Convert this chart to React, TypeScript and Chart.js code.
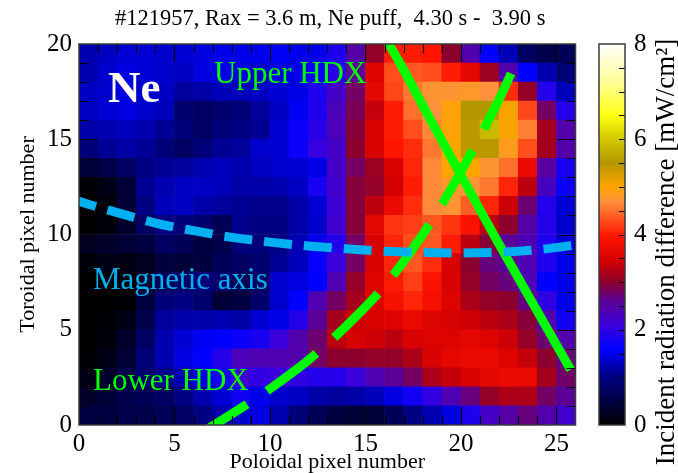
import React, { useEffect, useRef } from 'react';
import { Chart, registerables } from 'chart.js';

Chart.register(...registerables);

const TITLE = '#121957, Rax = 3.6 m, Ne puff,  4.30 s -  3.90 s';
const X_LABEL = 'Poloidal pixel number';
const Y_LABEL = 'Toroidal pixel number';
const CB_LABEL = 'Incident radiation difference [mW/cm\u00B2]';

const X_TICKS = [0, 5, 10, 15, 20, 25];
const Y_TICKS = [0, 5, 10, 15, 20];
const CB_TICKS = [0, 2, 4, 6, 8];
const X_MAX = 26;
const Y_MAX = 20;
const CB_MAX = 8;

// Heat map values (mW/cm^2), listed from the top row (toroidal 19) down to row 0.
const Z_ROW_19 = [1.22, 1.31, 1.40, 1.40, 1.36, 1.40, 1.45, 1.50, 1.49, 1.52, 1.55, 1.52, 1.50, 1.85, 2.50, 3.05, 4.00, 4.00, 3.95, 3.00, 2.45, 1.60, 1.27, 0.75, 0.58, 0.67];
const Z_ROW_18 = [1.22, 1.36, 1.45, 1.40, 1.36, 1.31, 1.45, 1.49, 1.45, 1.36, 1.45, 1.49, 1.65, 1.95, 2.60, 3.55, 4.30, 4.35, 4.30, 4.00, 3.65, 3.10, 2.45, 1.60, 1.22, 0.92];
const Z_ROW_17 = [1.31, 1.36, 1.45, 1.36, 1.31, 1.13, 1.18, 1.27, 1.27, 1.31, 1.40, 1.49, 1.85, 2.25, 2.80, 3.65, 4.25, 4.55, 4.75, 4.75, 4.80, 4.70, 4.10, 3.05, 1.90, 1.27];
const Z_ROW_16 = [1.31, 1.40, 1.45, 1.36, 1.27, 0.83, 0.75, 0.83, 0.92, 1.13, 1.31, 1.55, 1.85, 2.35, 2.85, 3.35, 4.00, 4.50, 4.70, 4.95, 5.50, 5.50, 5.05, 4.25, 2.80, 1.90];
const Z_ROW_15 = [1.18, 1.22, 1.27, 1.22, 1.09, 0.92, 0.75, 0.92, 1.00, 1.09, 1.40, 1.70, 1.95, 2.35, 2.95, 3.50, 4.00, 4.30, 4.65, 4.95, 5.45, 5.85, 5.05, 4.60, 3.15, 2.45];
const Z_ROW_14 = [0.92, 1.09, 1.18, 1.09, 0.92, 0.75, 0.92, 1.09, 1.13, 1.36, 1.40, 1.70, 2.05, 2.25, 3.00, 3.50, 3.95, 4.10, 4.55, 5.00, 5.45, 5.45, 4.85, 4.30, 3.15, 2.45];
const Z_ROW_13 = [0.42, 0.58, 0.75, 1.00, 1.09, 1.13, 1.22, 1.27, 1.22, 1.31, 1.36, 1.40, 1.49, 2.25, 2.80, 3.10, 3.50, 4.05, 4.65, 5.00, 5.00, 4.75, 4.50, 3.70, 2.55, 1.80];
const Z_ROW_12 = [0.04, 0.17, 0.42, 1.09, 1.22, 1.31, 1.31, 1.27, 1.18, 1.18, 1.22, 1.31, 1.80, 2.20, 2.95, 3.05, 3.45, 4.00, 4.65, 4.80, 4.75, 4.55, 4.05, 3.30, 2.30, 1.70];
const Z_ROW_11 = [0.00, 0.08, 0.42, 1.00, 1.27, 1.31, 1.18, 1.13, 1.09, 1.05, 1.05, 1.18, 1.40, 2.15, 2.95, 3.30, 3.70, 4.10, 4.65, 4.75, 4.40, 4.05, 3.40, 2.75, 1.90, 1.40];
const Z_ROW_10 = [0.00, 0.08, 0.33, 0.75, 1.00, 0.92, 0.83, 0.67, 1.05, 1.00, 1.00, 1.18, 1.36, 2.20, 2.95, 3.65, 4.15, 4.20, 4.35, 4.15, 3.90, 3.30, 3.00, 2.50, 1.90, 1.36];
const Z_ROW_09 = [0.25, 0.33, 0.42, 0.50, 0.75, 0.67, 0.50, 0.58, 0.92, 0.92, 1.00, 1.22, 1.49, 1.90, 2.80, 3.50, 4.05, 4.30, 4.35, 4.00, 3.30, 2.95, 2.60, 2.40, 1.85, 1.40];
const Z_ROW_08 = [0.08, 0.17, 0.12, 0.25, 0.50, 0.42, 0.50, 0.67, 0.75, 0.83, 1.09, 1.27, 1.65, 2.10, 2.80, 3.50, 4.05, 4.35, 4.10, 3.50, 3.00, 2.70, 2.60, 2.40, 1.85, 1.49];
const Z_ROW_07 = [0.00, 0.00, 0.08, 0.33, 0.67, 0.75, 0.92, 0.83, 0.67, 0.75, 1.36, 1.45, 1.60, 2.40, 3.05, 3.55, 4.00, 4.20, 3.90, 3.50, 3.05, 2.80, 2.70, 2.40, 1.60, 1.49];
const Z_ROW_06 = [0.00, 0.00, 0.04, 0.50, 0.92, 1.00, 0.83, 0.42, 0.50, 0.83, 1.36, 1.60, 2.40, 2.80, 3.15, 3.55, 3.85, 4.05, 3.85, 3.55, 3.20, 3.05, 3.00, 2.70, 2.00, 1.49];
const Z_ROW_05 = [0.00, 0.04, 0.17, 0.58, 1.13, 1.18, 1.18, 1.22, 1.18, 1.40, 1.49, 1.90, 2.60, 3.15, 3.40, 3.50, 3.55, 3.70, 3.55, 3.50, 3.40, 3.30, 3.20, 2.95, 2.45, 1.75];
const Z_ROW_04 = [0.00, 0.08, 0.33, 0.75, 1.22, 1.40, 1.55, 1.60, 1.70, 1.80, 2.10, 2.45, 2.75, 3.30, 3.50, 3.40, 3.30, 3.50, 3.55, 3.55, 3.65, 3.55, 3.40, 3.05, 2.75, 2.45];
const Z_ROW_03 = [0.04, 0.17, 0.42, 0.92, 1.22, 1.45, 1.60, 1.90, 2.35, 2.40, 2.40, 2.45, 2.80, 3.00, 3.00, 3.05, 3.05, 3.20, 3.50, 3.65, 3.70, 3.70, 3.55, 3.35, 3.00, 2.70];
const Z_ROW_02 = [0.17, 0.33, 0.58, 0.83, 1.05, 1.22, 1.45, 1.75, 2.15, 2.00, 2.10, 2.00, 1.90, 1.90, 2.10, 2.40, 2.60, 2.80, 3.20, 3.35, 3.50, 3.65, 3.70, 3.68, 3.15, 2.78];
const Z_ROW_01 = [0.33, 0.42, 0.58, 0.67, 0.75, 1.00, 1.22, 1.40, 1.75, 1.50, 1.36, 1.31, 1.18, 1.13, 1.18, 1.27, 1.45, 1.75, 2.00, 2.40, 2.70, 3.05, 3.20, 3.20, 2.80, 2.60];
const Z_ROW_00 = [0.50, 0.50, 0.58, 0.58, 0.67, 0.75, 1.00, 1.22, 1.36, 1.45, 1.22, 0.92, 0.67, 0.50, 0.42, 0.42, 0.67, 1.00, 1.22, 1.45, 1.85, 2.25, 2.50, 2.70, 2.45, 2.20];

const Z_ROWS_BOTTOM_UP = [
  Z_ROW_00, Z_ROW_01, Z_ROW_02, Z_ROW_03, Z_ROW_04, Z_ROW_05, Z_ROW_06, Z_ROW_07, Z_ROW_08, Z_ROW_09,
  Z_ROW_10, Z_ROW_11, Z_ROW_12, Z_ROW_13, Z_ROW_14, Z_ROW_15, Z_ROW_16, Z_ROW_17, Z_ROW_18, Z_ROW_19,
];

// Overlaid curves (poloidal, toroidal)
const MAG_AXIS_X = [-0.5, 0, 2, 4, 6, 8, 10, 12, 14, 16, 18, 20, 22, 24, 26, 26.5];
const MAG_AXIS_Y = [11.95, 11.75, 11.15, 10.6, 10.2, 9.85, 9.6, 9.4, 9.25, 9.12, 9.05, 9.03, 9.07, 9.2, 9.45, 9.52];
const UPPER_HDX_X = [16.0, 16.8, 18.5, 20.2, 21.85, 23.5, 25.75];
const UPPER_HDX_Y = [20.4, 19.0, 15.85, 12.75, 9.75, 6.85, 2.9];
// listed from the upper end down to the lower end
const LOWER_HDX_X = [22.63, 22, 20, 18, 16, 14, 12, 10, 8.5, 6.75];
const LOWER_HDX_Y = [18.46, 17.1, 13.3, 10.0, 7.3, 5.2, 3.4, 1.9, 0.9, -0.2];

// Colour table
const CMAP_STOPS = [0, 1.0, 1.6, 2.1, 2.6, 3.0, 3.45, 3.95, 4.7, 5.0, 5.5, 6.0, 6.5, 7.2, 8.0];
const CMAP_RGB = [
  [0, 0, 0], [0, 0, 130], [0, 0, 255], [60, 0, 220], [90, 0, 150], [140, 0, 45], [212, 0, 0],
  [255, 20, 0], [255, 145, 60], [255, 165, 0], [180, 150, 0], [210, 200, 0], [255, 255, 20],
  [255, 255, 150], [255, 255, 255],
];

const SERIF = '"Liberation Serif", "Times New Roman", Times, serif';
const LIME = '#00ff00';
const CYAN = '#00b0f0';

function cmap(v: number): string {
  if (v <= CMAP_STOPS[0]) return `rgb(${CMAP_RGB[0].join(',')})`;
  for (let i = 1; i < CMAP_STOPS.length; i++) {
    if (v <= CMAP_STOPS[i]) {
      const t = (v - CMAP_STOPS[i - 1]) / (CMAP_STOPS[i] - CMAP_STOPS[i - 1]);
      const a = CMAP_RGB[i - 1];
      const b = CMAP_RGB[i];
      const c = a.map((x, k) => Math.round(x + (b[k] - x) * t));
      return `rgb(${c.join(',')})`;
    }
  }
  return `rgb(${CMAP_RGB[CMAP_RGB.length - 1].join(',')})`;
}

const ANNOTATIONS = [
  { text: 'Ne', x: 1.52, y: 16.96, color: '#ffffff', font: `bold 45px ${SERIF}` },
  { text: 'Upper HDX', x: 7.07, y: 17.94, color: LIME, font: `31px ${SERIF}` },
  { text: 'Magnetic axis', x: 0.73, y: 7.14, color: CYAN, font: `31px ${SERIF}` },
  { text: 'Lower HDX', x: 0.73, y: 1.84, color: LIME, font: `31px ${SERIF}` },
];

const mainPlugin = {
  id: 'mainDecor',
  afterDatasetsDraw(chart: any) {
    const { ctx, chartArea: a, scales } = chart;
    const xs = scales.x;
    const ys = scales.y;
    ctx.save();
    ctx.textAlign = 'left';
    ctx.textBaseline = 'alphabetic';
    for (const an of ANNOTATIONS) {
      ctx.font = an.font;
      ctx.fillStyle = an.color;
      ctx.fillText(an.text, xs.getPixelForValue(an.x), ys.getPixelForValue(an.y));
    }
    ctx.strokeStyle = '#000';
    ctx.lineWidth = 1.2;
    ctx.beginPath();
    for (let v = 1; v < X_MAX; v++) {
      const px = Math.round(xs.getPixelForValue(v)) + 0.5;
      const len = v % 5 === 0 ? 18 : 9;
      ctx.moveTo(px, a.bottom); ctx.lineTo(px, a.bottom - len);
      ctx.moveTo(px, a.top); ctx.lineTo(px, a.top + len);
    }
    for (let v = 1; v < Y_MAX; v++) {
      const py = Math.round(ys.getPixelForValue(v)) + 0.5;
      const len = v % 5 === 0 ? 18 : 9;
      ctx.moveTo(a.left, py); ctx.lineTo(a.left + len, py);
      ctx.moveTo(a.right, py); ctx.lineTo(a.right - len, py);
    }
    ctx.stroke();
    ctx.strokeStyle = '#3a3a3a';
    ctx.lineWidth = 1.5;
    ctx.strokeRect(a.left, a.top, a.right - a.left, a.bottom - a.top);
    ctx.restore();
  },
  afterDraw(chart: any) {
    const { ctx, chartArea: a } = chart;
    ctx.save();
    ctx.font = `22.5px ${SERIF}`;
    ctx.fillStyle = '#000';
    ctx.textAlign = 'center';
    ctx.textBaseline = 'middle';
    ctx.fillText(TITLE, (a.left + a.right) / 2 + 3, 19);
    ctx.restore();
  },
};

const cbPlugin = {
  id: 'cbDecor',
  afterDatasetsDraw(chart: any) {
    const { ctx, chartArea: a, scales } = chart;
    const ys = scales.y;
    ctx.save();
    ctx.strokeStyle = '#000';
    ctx.lineWidth = 1.2;
    ctx.beginPath();
    for (let v = 0.5; v < CB_MAX; v += 0.5) {
      const py = Math.round(ys.getPixelForValue(v)) + 0.5;
      ctx.moveTo(a.right, py); ctx.lineTo(a.right - 6, py);
    }
    ctx.stroke();
    ctx.strokeStyle = '#3a3a3a';
    ctx.lineWidth = 1.5;
    ctx.strokeRect(a.left, a.top, a.right - a.left, a.bottom - a.top);
    ctx.translate(77, 252);
    ctx.rotate(-Math.PI / 2);
    ctx.font = `27px ${SERIF}`;
    ctx.fillStyle = '#000';
    ctx.textAlign = 'center';
    ctx.textBaseline = 'middle';
    ctx.fillText(CB_LABEL, 0, 0);
    ctx.restore();
  },
};

function lineDataset(xsArr: number[], ysArr: number[], color: string, dash: number[], dashOffset: number) {
  return {
    type: 'line' as const,
    data: xsArr.map((x, i) => ({ x, y: ysArr[i] })),
    borderColor: color,
    borderWidth: 9,
    borderDash: dash,
    borderDashOffset: dashOffset,
    borderCapStyle: 'butt',
    pointRadius: 0,
    fill: false,
    cubicInterpolationMode: 'monotone',
    clip: 0,
    order: -1,
  };
}

export default function App() {
  const mainRef = useRef<HTMLCanvasElement>(null);
  const cbRef = useRef<HTMLCanvasElement>(null);

  useEffect(() => {
    const barSets = Z_ROWS_BOTTOM_UP.map((row, r) => ({
      type: 'bar' as const,
      data: row.map((_, c) => ({ x: c + 0.5, y: [r, r + 1] })),
      backgroundColor: row.map((v) => cmap(v)),
      borderWidth: 0,
      barPercentage: 1,
      categoryPercentage: 1,
      grouped: false,
      order: 1,
    }));

    const main = new Chart(mainRef.current!, {
      type: 'bar',
      data: {
        datasets: [
          lineDataset(MAG_AXIS_X, MAG_AXIS_Y, CYAN, [28, 12], 0),
          lineDataset(UPPER_HDX_X, UPPER_HDX_Y, LIME, [], 0),
          lineDataset(LOWER_HDX_X, LOWER_HDX_Y, LIME, [62, 24], 0),
          ...barSets,
        ] as any,
      },
      options: {
        responsive: false,
        animation: false,
        events: [],
        layout: { padding: { left: 0, right: 102.5, top: 44, bottom: 0 } },
        plugins: { legend: { display: false }, tooltip: { enabled: false }, title: { display: false } },
        scales: {
          x: {
            type: 'linear',
            min: 0,
            max: X_MAX,
            offset: false,
            grid: { display: false, drawTicks: false },
            border: { display: false },
            afterBuildTicks: (s: any) => { s.ticks = X_TICKS.map((v) => ({ value: v })); },
            afterFit: (s: any) => { s.height = 48; },
            ticks: { font: { family: SERIF, size: 25 }, color: '#000', padding: 4, maxRotation: 0, autoSkip: false },
            title: { display: true, text: X_LABEL, color: '#000', font: { family: SERIF, size: 22, lineHeight: 1 }, padding: { top: 0, bottom: 0 } },
          },
          y: {
            type: 'linear',
            min: 0,
            max: Y_MAX,
            grid: { display: false, drawTicks: false },
            border: { display: false },
            afterBuildTicks: (s: any) => { s.ticks = Y_TICKS.map((v) => ({ value: v })); },
            afterFit: (s: any) => { s.width = 79; },
            ticks: { font: { family: SERIF, size: 25 }, color: '#000', padding: 7 },
            title: { display: true, text: Y_LABEL, color: '#000', font: { family: SERIF, size: 22, lineHeight: 1 }, padding: { top: 17, bottom: 0 } },
          },
        },
      } as any,
      plugins: [mainPlugin],
    });

    const cb = new Chart(cbRef.current!, {
      type: 'bar',
      data: {
        labels: [''],
        datasets: [{
          data: [[0, CB_MAX]],
          backgroundColor: (c: any) => {
            const area = c.chart.chartArea;
            if (!area) return '#000';
            const g = c.chart.ctx.createLinearGradient(0, area.bottom, 0, area.top);
            CMAP_STOPS.forEach((s, i) => g.addColorStop(s / CB_MAX, `rgb(${CMAP_RGB[i].join(',')})`));
            return g;
          },
          borderWidth: 0,
          barPercentage: 1,
          categoryPercentage: 1,
        }],
      },
      options: {
        responsive: false,
        animation: false,
        events: [],
        layout: { padding: { left: 9, right: 0, top: 44, bottom: 48 } },
        plugins: { legend: { display: false }, tooltip: { enabled: false } },
        scales: {
          x: { display: false, offset: true },
          y: {
            position: 'right',
            min: 0,
            max: CB_MAX,
            grid: { display: false, drawTicks: false },
            border: { display: false },
            afterBuildTicks: (s: any) => { s.ticks = CB_TICKS.map((v) => ({ value: v })); },
            afterFit: (s: any) => { s.width = 53; },
            ticks: { font: { family: SERIF, size: 25 }, color: '#000', padding: 9 },
          },
        },
      } as any,
      plugins: [cbPlugin],
    });

    return () => { main.destroy(); cb.destroy(); };
  }, []);

  return (
    <div style={{ position: 'fixed', left: 0, top: 0, width: 678, height: 473, background: '#fff' }}>
      <canvas ref={mainRef} width={678} height={473} style={{ position: 'absolute', left: 0, top: 0 }} />
      <canvas ref={cbRef} width={88} height={473} style={{ position: 'absolute', left: 590, top: 0 }} />
    </div>
  );
}
